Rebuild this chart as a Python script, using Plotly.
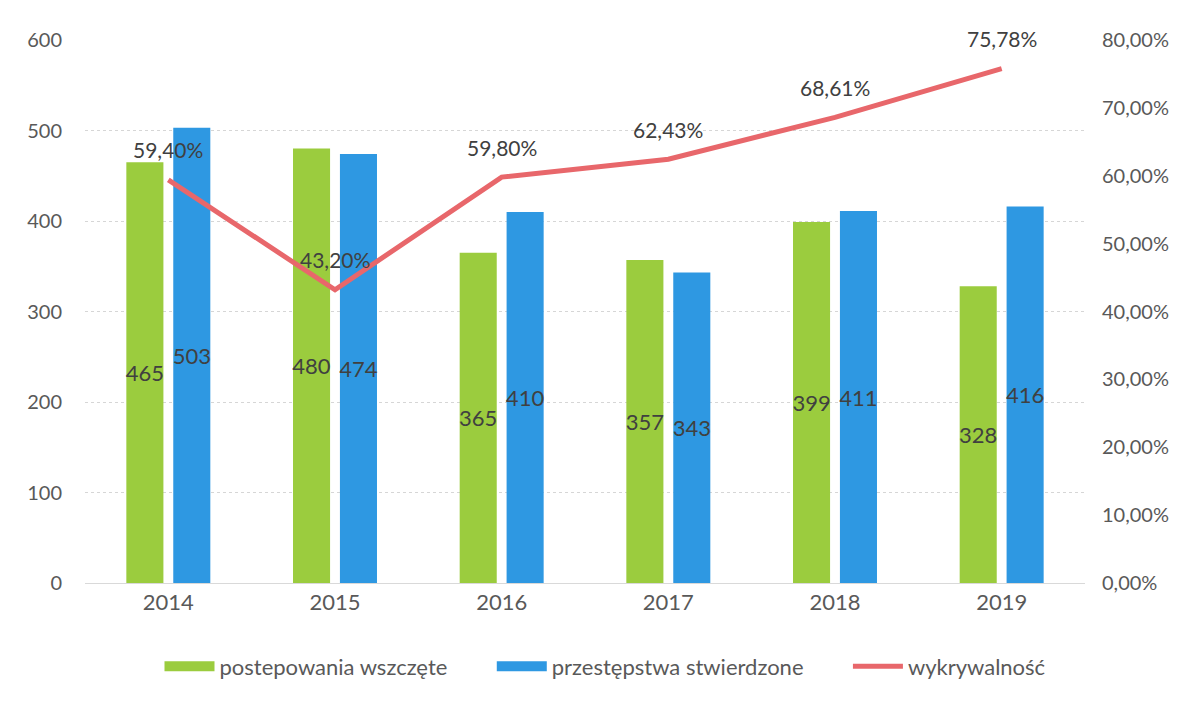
import plotly.graph_objects as go

years = ["2014", "2015", "2016", "2017", "2018", "2019"]
wszczete = [465, 480, 365, 357, 399, 328]
stwierdzone = [503, 474, 410, 343, 411, 416]
wykrywalnosc = [0.5940, 0.4320, 0.5980, 0.6243, 0.6861, 0.7578]

GREEN = "#9bcc3e"
BLUE = "#2e98e2"
RED = "#e8676b"
TEXT = "#595959"
LABEL = "#404040"
FONT = "Lato, 'Open Sans', sans-serif"
PAD = "\u00a0" * 7

fig = go.Figure()

# bars (legend drawn by dummy traces below to get wide swatches)
for name, vals, color in [("postepowania wszczęte", wszczete, GREEN),
                          ("przestępstwa stwierdzone", stwierdzone, BLUE)]:
    fig.add_trace(go.Bar(
        x=years, y=vals, name=name, showlegend=False,
        marker=dict(color=color, line=dict(width=0)),
        text=vals, textposition="inside", insidetextanchor="middle",
        textangle=0, constraintext="none",
        textfont=dict(size=22, color=LABEL, family=FONT),
        hovertemplate="%{x}: %{y}<extra></extra>",
    ))

fig.add_trace(go.Scatter(
    x=years, y=wykrywalnosc, name="wykrywalność", yaxis="y2",
    mode="lines", showlegend=False,
    line=dict(color=RED, width=5),
    hovertemplate="%{x}: %{y:.2%}<extra></extra>",
))

# legend entries
for name, color, w in [("postepowania wszczęte" + PAD, GREEN, 18),
                       ("przestępstwa stwierdzone" + PAD, BLUE, 18),
                       ("wykrywalność", RED, 5)]:
    fig.add_trace(go.Scatter(
        x=[years[0]], y=[None], name=name, mode="lines",
        line=dict(color=color, width=w), hoverinfo="skip",
    ))

# line labels (x as category index, so "2014" is not read as a number)
annotations = [
    dict(x=i, y=v, xref="x", yref="y2", text=f"{v * 100:.2f}%".replace(".", ","),
         showarrow=False, yshift=30, font=dict(size=21, color=LABEL, family=FONT))
    for i, v in enumerate(wykrywalnosc)
]

fig.update_layout(
    width=1179, height=694,
    paper_bgcolor="white", plot_bgcolor="white",
    font=dict(family=FONT, color=TEXT, size=18),
    separators=", ",
    barmode="group", bargap=0.437, bargroupgap=0.21,
    margin=dict(l=77, r=102, t=32, b=119),
    xaxis=dict(type="category", categoryorder="array", categoryarray=years,
               range=[-0.5, len(years) - 0.5],
               showgrid=False, showline=True, linecolor="#d9d9d9",
               tickfont=dict(size=22, color=TEXT), ticks=""),
    yaxis=dict(range=[0, 600], dtick=100, showgrid=True, gridcolor="#d6d6d6",
               griddash="dot", zeroline=False, ticks="",
               tickfont=dict(size=20, color=TEXT), ticklabelstandoff=22),
    yaxis2=dict(range=[0, 0.8], dtick=0.1, tickformat=".2%", overlaying="y",
                side="right", showgrid=False, zeroline=False, ticks="",
                tickfont=dict(size=20, color=TEXT), ticklabelstandoff=16),
    legend=dict(orientation="h", x=0.52, xanchor="center", y=-0.115, yanchor="top",
                font=dict(size=22, color=TEXT), itemwidth=50, traceorder="normal"),
    annotations=annotations,
)

fig.write_html("out.html")
